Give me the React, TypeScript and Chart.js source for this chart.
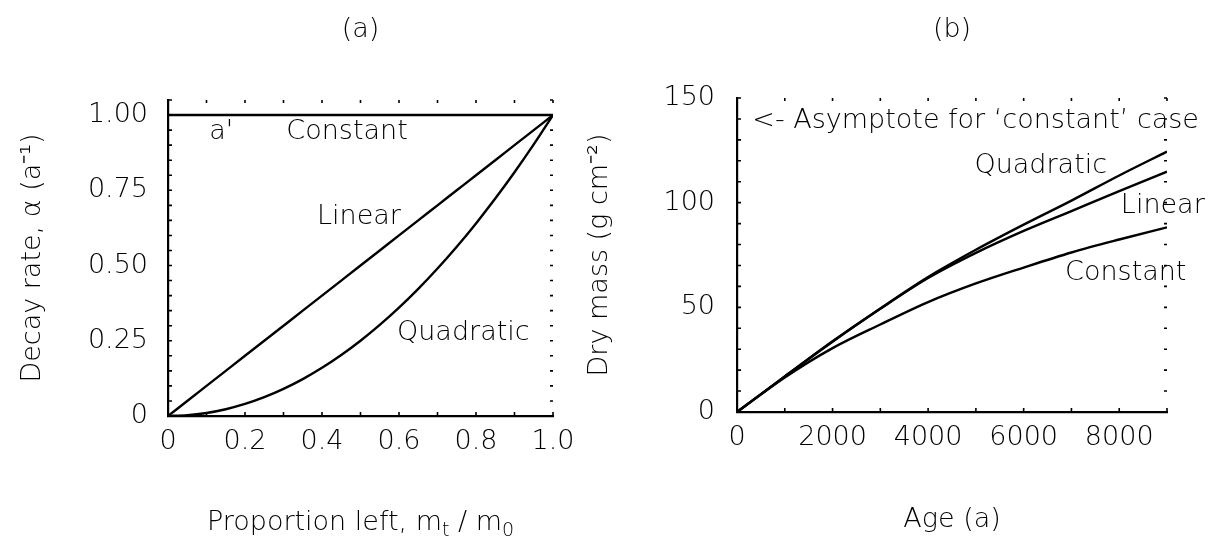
import React, { useEffect, useRef } from 'react';
import { Chart, registerables } from 'chart.js';

Chart.register(...registerables);

// ---------- Panel (a) data ----------
const proportionLeft = [0, 0.05, 0.1, 0.15, 0.2, 0.25, 0.3, 0.35, 0.4, 0.45, 0.5, 0.55, 0.6, 0.65, 0.7, 0.75, 0.8, 0.85, 0.9, 0.95, 1.0];
const rateConstant = [1, 1, 1, 1, 1, 1, 1, 1, 1, 1, 1, 1, 1, 1, 1, 1, 1, 1, 1, 1, 1];
const rateLinear = [0, 0.05, 0.1, 0.15, 0.2, 0.25, 0.3, 0.35, 0.4, 0.45, 0.5, 0.55, 0.6, 0.65, 0.7, 0.75, 0.8, 0.85, 0.9, 0.95, 1.0];
const rateQuadratic = [0, 0.0025, 0.01, 0.0225, 0.04, 0.0625, 0.09, 0.1225, 0.16, 0.2025, 0.25, 0.3025, 0.36, 0.4225, 0.49, 0.5625, 0.64, 0.7225, 0.81, 0.9025, 1.0];

// ---------- Panel (b) data ----------
const ageYears = [0, 1000, 2000, 3000, 4000, 5000, 6000, 7000, 8000, 9000];
const massQuadratic = [0, 17, 33.8, 49.5, 64.5, 77.5, 89.5, 101, 113, 124.4];
const massLinear = [0, 17, 33.6, 49.3, 64, 76, 86.5, 96, 105.5, 114.8];
const massConstant = [0, 16.5, 30.5, 41.8, 52.5, 61.4, 69, 76.2, 82.4, 88.2];

const TEXT_FONT = '"DejaVu Sans ExtraLight", "DejaVu Sans", sans-serif';
const TEXT_SIZE = 27;
const TICK_SIZE = 27;
const WEIGHT = '200';

const toPoints = (xs: number[], ys: number[]) => xs.map((x, i) => ({ x, y: ys[i] }));

// Inward tick marks on left/bottom axes, dots on top, dashes on right
const tickMarksPlugin = {
  id: 'tickMarks',
  afterDatasetsDraw(chart: any) {
    const { ctx, chartArea: a, scales } = chart;
    const x = scales.x;
    const y = scales.y;
    ctx.save();
    ctx.strokeStyle = '#000';
    ctx.lineWidth = 1.6;
    ctx.beginPath();
    x.ticks.forEach((t: any) => {
      const px = x.getPixelForValue(t.value);
      ctx.moveTo(px, a.bottom);
      ctx.lineTo(px, a.bottom - 4);
      ctx.moveTo(px, a.top);
      ctx.lineTo(px, a.top + 3);
    });
    y.ticks.forEach((t: any) => {
      const py = y.getPixelForValue(t.value);
      ctx.moveTo(a.left, py);
      ctx.lineTo(a.left + 4, py);
      ctx.moveTo(a.right - 3, py);
      ctx.lineTo(a.right, py);
    });
    ctx.stroke();
    ctx.restore();
  },
};

// Curve labels placed in data coordinates
const curveLabelsPlugin = {
  id: 'curveLabels',
  afterDatasetsDraw(chart: any, _args: any, opts: any) {
    const { ctx, scales } = chart;
    ctx.save();
    ctx.fillStyle = '#000';
    ctx.font = `${WEIGHT} ${TEXT_SIZE}px ${TEXT_FONT}`;
    ctx.textBaseline = 'alphabetic';
    (opts.items || []).forEach((it: any) => {
      ctx.textAlign = it.align || 'center';
      ctx.fillText(it.text, scales.x.getPixelForValue(it.x), scales.y.getPixelForValue(it.y));
    });
    ctx.restore();
  },
};

// X-axis title with real subscripts, centred under the chart area
const richXTitlePlugin = {
  id: 'richXTitle',
  afterDraw(chart: any, _args: any, opts: any) {
    if (!opts.parts) return;
    const { ctx, chartArea: a } = chart;
    const main = `${WEIGHT} ${TEXT_SIZE}px ${TEXT_FONT}`;
    const sub = `${WEIGHT} ${Math.round(TEXT_SIZE * 0.7)}px ${TEXT_FONT}`;
    ctx.save();
    ctx.fillStyle = '#000';
    ctx.textBaseline = 'alphabetic';
    ctx.textAlign = 'left';
    let total = 0;
    opts.parts.forEach((p: any) => {
      ctx.font = p.sub ? sub : main;
      total += ctx.measureText(p.text).width;
    });
    let x = (a.left + a.right) / 2 - total / 2;
    const base = chart.height - opts.baselineFromBottom;
    opts.parts.forEach((p: any) => {
      ctx.font = p.sub ? sub : main;
      ctx.fillText(p.text, x, p.sub ? base + 6 : base);
      x += ctx.measureText(p.text).width;
    });
    ctx.restore();
  },
};

function lineDataset(label: string, xs: number[], ys: number[]) {
  return {
    label,
    data: toPoints(xs, ys),
    borderColor: '#000',
    borderWidth: 2.4,
    pointRadius: 0,
    fill: false,
    cubicInterpolationMode: 'monotone' as const,
  };
}

function makeConfig(p: any) {
  const textFont = { family: TEXT_FONT, size: TEXT_SIZE, weight: WEIGHT, lineHeight: 1.2 };
  const tickFont = { family: TEXT_FONT, size: TICK_SIZE, weight: WEIGHT };
  return {
    type: 'line' as const,
    data: { datasets: p.datasets },
    plugins: [tickMarksPlugin, curveLabelsPlugin, richXTitlePlugin],
    options: {
      animation: false as const,
      responsive: false,
      maintainAspectRatio: false,
      layout: { padding: { left: 0, right: p.padRight, top: 0, bottom: 0 } },
      plugins: {
        legend: { display: false },
        tooltip: { enabled: false },
        title: {
          display: true,
          text: p.title,
          fullSize: false,
          color: '#000',
          font: textFont,
          padding: { top: 14, bottom: p.top - 14 - TEXT_SIZE * 1.2 },
        },
        curveLabels: { items: p.labels },
        richXTitle: { parts: p.xTitleParts, baselineFromBottom: 14 },
      },
      scales: {
        x: {
          type: 'linear' as const,
          min: p.xMin,
          max: p.xMax,
          afterFit: (s: any) => { s.height = p.xAxisHeight; },
          grid: { display: false, drawTicks: false },
          border: { display: true, color: '#000', width: 2.2 },
          ticks: {
            stepSize: p.xStep,
            padding: 10,
            color: '#000',
            maxRotation: 0,
            autoSkip: false,
            font: tickFont,
            callback: p.xLabel,
          },
          title: {
            display: !p.xTitleParts,
            text: p.xTitle,
            color: '#000',
            font: textFont,
            padding: { top: 0, bottom: 8 },
          },
        },
        y: {
          type: 'linear' as const,
          min: 0,
          max: p.yMax,
          afterFit: (s: any) => { s.width = p.yAxisWidth; },
          grid: { display: false, drawTicks: false },
          border: { display: true, color: '#000', width: 2.2 },
          ticks: {
            stepSize: p.yStep,
            padding: p.yTickPad,
            color: '#000',
            autoSkip: false,
            font: tickFont,
            callback: p.yLabel,
          },
          title: {
            display: true,
            text: p.yTitle,
            color: '#000',
            font: textFont,
            padding: { top: p.yTitlePad, bottom: 0 },
          },
        },
      },
    },
  };
}

function Panel(props: { cfg: any; left: number; width: number }) {
  const ref = useRef<HTMLCanvasElement>(null);
  useEffect(() => {
    if (!ref.current) return;
    const chart = new Chart(ref.current, makeConfig(props.cfg) as any);
    return () => chart.destroy();
  }, []);
  return (
    <canvas
      ref={ref}
      width={props.width}
      height={544}
      style={{ position: 'absolute', left: props.left, top: 0, width: props.width, height: 544 }}
    />
  );
}

const panelA = {
  title: '(a)',
  datasets: [
    lineDataset('Constant', proportionLeft, rateConstant),
    lineDataset('Linear', proportionLeft, rateLinear),
    lineDataset('Quadratic', proportionLeft, rateQuadratic),
  ],
  xMin: 0, xMax: 1, xStep: 0.1,
  yMax: 1.05, yStep: 0.05,
  top: 100, xAxisHeight: 128, yAxisWidth: 168, padRight: 47,
  yTickPad: 20, yTitlePad: 17,
  xTitle: 'Proportion left, mt / m0',
  xTitleParts: [
    { text: 'Proportion left, m' },
    { text: 't', sub: true },
    { text: ' / m' },
    { text: '0', sub: true },
  ],
  yTitle: 'Decay rate, α (a⁻¹)',
  xLabel: (v: number) => {
    const k = Math.round(v * 10);
    if (k % 2 !== 0) return '';
    return k === 0 ? '0' : (k / 10).toFixed(1);
  },
  yLabel: (v: number) => {
    const k = Math.round(v * 100);
    if (k % 25 !== 0 || k > 100) return '';
    return k === 0 ? '0' : (k / 100).toFixed(2);
  },
  labels: [
    { text: "a'", x: 0.138, y: 0.92 },
    { text: 'Constant', x: 0.465, y: 0.92 },
    { text: 'Linear', x: 0.496, y: 0.639 },
    { text: 'Quadratic', x: 0.767, y: 0.254 },
  ],
};

const panelB = {
  title: '(b)',
  datasets: [
    lineDataset('Quadratic', ageYears, massQuadratic),
    lineDataset('Linear', ageYears, massLinear),
    lineDataset('Constant', ageYears, massConstant),
  ],
  xMin: 0, xMax: 9000, xStep: 1000,
  yMax: 150, yStep: 10,
  top: 98, xAxisHeight: 132, yAxisWidth: 162, padRight: 52,
  yTickPad: 22, yTitlePad: 9,
  xTitle: 'Age (a)',
  xTitleParts: null,
  yTitle: 'Dry mass (g cm⁻²)',
  xLabel: (v: number) => {
    const k = Math.round(v);
    if (k % 2000 !== 0) return '';
    return String(k);
  },
  yLabel: (v: number) => {
    const k = Math.round(v);
    if (k % 50 !== 0) return '';
    return String(k);
  },
  labels: [
    { text: '<- Asymptote for ‘constant’ case', x: 320, y: 135.5, align: 'left' },
    { text: 'Quadratic', x: 6358, y: 114 },
    { text: 'Linear', x: 8912, y: 95 },
    { text: 'Constant', x: 8137, y: 63 },
  ],
};

export default function App() {
  return (
    <div style={{ position: 'absolute', left: 0, top: 0, width: 1219, height: 544, background: '#fff' }}>
      <Panel cfg={panelA} left={0} width={600} />
      <Panel cfg={panelB} left={575} width={644} />
    </div>
  );
}
